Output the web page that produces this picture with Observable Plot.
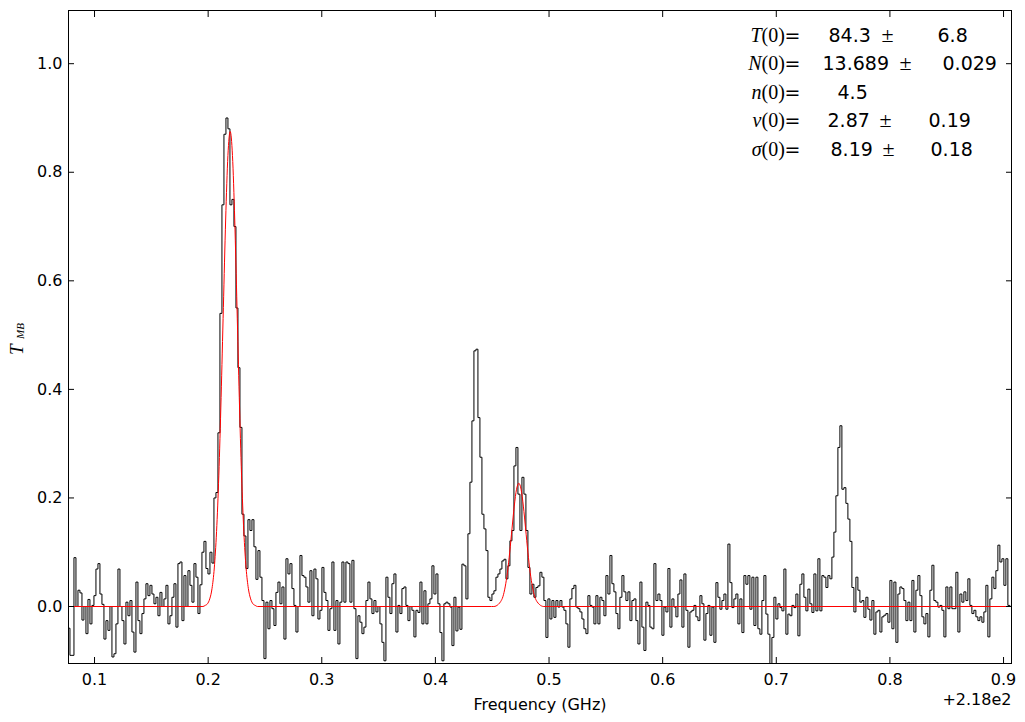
<!DOCTYPE html>
<html><head><meta charset="utf-8">
<script src="https://cdn.jsdelivr.net/npm/d3@7"></script>
<script src="https://cdn.jsdelivr.net/npm/@observablehq/plot@0.6"></script>
<style>body{margin:0;background:#fff} svg{display:block}</style>
</head><body><div id="chart"></div>
<script>
// Channel grid of the spectrum (GHz, offset from 218 GHz)
const chanStart = 0.0775;
const chanWidth = 0.00176;

const tmbLeft = [-0.04, -0.09, -0.09, 0.09, 0.0, 0.03, 0.025, -0.025, 0.0, -0.05,
  0.013, -0.032, 0.002, 0.02, 0.069, 0.079, 0.023, 0.004, -0.06, -0.026,
  -0.044, 0.0, -0.093, -0.087, -0.032, 0.069, 0.0, -0.026, -0.069, 0.008,
  -0.017, 0.011, -0.047, -0.084, 0.045, -0.026, -0.05, -0.013, 0.014, 0.042,
  0.02, 0.039, 0.023, 0.005, 0.017, -0.017, 0.026, 0.0, 0.014, 0.039,
  -0.032, -0.017, 0.017, 0.042, -0.038, 0.079, 0.082, -0.026, 0.057, 0.0,
  0.066, 0.039, 0.008, 0.079, 0.054, -0.013];
const tmbLine1 = [0.04, 0.10, 0.12, 0.07, 0.06, 0.10, 0.08, 0.20, 0.21, 0.32,
  0.54, 0.74, 0.87, 0.90, 0.88, 0.74, 0.75, 0.70, 0.55, 0.44,
  0.33, 0.17, 0.13, 0.07, 0.16, 0.14, 0.16, 0.11, 0.05];
const tmbMid = [0.103, 0.054, 0.011, -0.096, 0.008, -0.041, 0.011, -0.004, -0.035, 0.026,
  0.045, 0.005, 0.036, -0.06, 0.088, 0.06, 0.079, 0.033, 0.002, -0.047,
  0.0, 0.094, 0.057, 0.054, 0.036, 0.008, 0.066, -0.017, 0.069, 0.051,
  -0.023, -0.007, 0.072, 0.026, 0.011, -0.044, -0.004, 0.082, -0.044, 0.011,
  -0.069, 0.008, 0.082, 0.008, 0.082, 0.079, 0.008, 0.085, -0.004, -0.096,
  -0.017, -0.029, -0.05, -0.038, 0.011, 0.045, 0.014, -0.013, 0.011, -0.01,
  0.0, -0.032, -0.066, -0.1, 0.054, 0.017, -0.013, 0.042, 0.06, -0.047,
  0.002, -0.013, 0.033, 0.036, 0.002, -0.026, 0.0, -0.007, -0.056, -0.007];
const tmbLines23 = [-0.011, 0.045, -0.032, 0.029, -0.032, 0.005, 0.014, 0.075, 0.023, 0.06,
  0.005, -0.048, -0.1, 0.005, 0.008, 0.005, -0.001, -0.072, 0.017, -0.045,
  -0.001, -0.042, 0.078, 0.075, 0.014, 0.134, 0.229, 0.342, 0.471, 0.474,
  0.348, 0.275, 0.17, 0.143, 0.103, 0.017, 0.011, 0.023, 0.029, 0.054,
  0.06, 0.069, 0.084, 0.087, 0.051, 0.075, 0.121, 0.14, 0.259, 0.293,
  0.207, 0.14, 0.238, 0.207, 0.14, 0.072, 0.023, 0.041, 0.017, 0.035,
  0.038, 0.063, 0.054, 0.011, -0.057, 0.014, -0.023, 0.011, -0.02, 0.011,
  -0.001];
const tmbRight1 = [0.011, -0.001, -0.007, -0.032, -0.075, 0.014, 0.033, 0.039, -0.001, -0.004,
  -0.01, -0.023, -0.041, -0.05, 0.02, 0.002, -0.001, -0.032, 0.02, -0.032,
  0.017, 0.011, -0.017, 0.057, 0.023, 0.094, 0.042, 0.027, -0.013, -0.041,
  0.017, 0.057, 0.027, 0.011, 0.027, -0.026, 0.011, 0.014, -0.026, -0.069,
  0.045, -0.038, -0.081, 0.008, 0.002, -0.038, -0.041, 0.079, 0.011, 0.023,
  0.011, -0.053, -0.001, -0.01, 0.07, -0.038, 0.014, -0.001, -0.019, 0.023,
  0.049, -0.038, 0.06, -0.007, -0.075, -0.01, -0.007, 0.002, -0.019, -0.026,
  0.02, 0.005, -0.062, -0.013, 0.002, -0.053, -0.001];
const tmbRight2 = [-0.066, 0.044, 0.017, -0.005, 0.011, 0.023, -0.005, 0.115, 0.044, -0.002,
  0.014, 0.023, -0.032, 0.014, -0.048, 0.057, 0.041, 0.057, -0.005, 0.054,
  -0.035, 0.054, -0.041, -0.051, 0.011, 0.057, -0.014, -0.051, -0.11, -0.057,
  0.017, -0.023, 0.005, -0.002, -0.008, 0.069, -0.051, -0.014, -0.017, 0.002,
  -0.002, 0.023, -0.054, 0.041, 0.06, 0.017, -0.008, 0.032, 0.005, -0.011,
  0.06, -0.008, 0.088, -0.008, 0.057, 0.054, 0.035, 0.057];
const tmbLine4 = [0.051, 0.091, 0.137, 0.204, 0.293, 0.333, 0.216, 0.219, 0.19, 0.161,
  0.12, 0.035, -0.01, 0.054, 0.03, 0.008, 0.011, -0.02, 0.017, -0.005,
  -0.025, 0.011, -0.051, -0.01];
const tmbEnd = [-0.007, -0.047, -0.019, -0.016, -0.013, -0.029, 0.048, -0.041, 0.045, -0.066,
  0.023, 0.036, 0.033, 0.011, -0.026, 0.008, -0.026, 0.048, -0.047, 0.03,
  0.057, 0.02, -0.019, -0.032, -0.013, -0.056, 0.03, 0.076, 0.011, 0.008,
  -0.001, 0.002, -0.007, -0.056, 0.036, -0.004, 0.036, -0.004, -0.004, 0.063,
  -0.047, 0.023, 0.008, 0.027, 0.011, 0.051, 0.002, -0.013, -0.007, -0.019,
  -0.026, -0.019, -0.029, -0.01, 0.039, -0.056, 0.014, 0.054, 0.033, 0.066,
  0.113, 0.082, 0.088, 0.039, 0.088, 0.002, 0.0];

// Fitted model (red)
const fitFreq = [0.0771,
  0.1954, 0.1974, 0.1994, 0.2014, 0.2034, 0.2054, 0.2074, 0.2094, 0.2114, 0.2134, 0.2154, 0.2174, 0.2194,
  0.2214, 0.2234, 0.2254, 0.2274, 0.2294, 0.2314, 0.2334, 0.2354, 0.2374, 0.2394, 0.2414, 0.2434,
  0.4494, 0.4514, 0.4534, 0.4554, 0.4574, 0.4594, 0.4614, 0.4634, 0.4654, 0.4674, 0.4694, 0.4714, 0.4734,
  0.4754, 0.4774, 0.4794, 0.4814, 0.4834, 0.4854, 0.4874, 0.4894, 0.4914, 0.4934, 0.4954, 0.4974,
  0.907];
const fitT = [0,
  0.000, 0.002, 0.005, 0.014, 0.033, 0.071, 0.138, 0.242, 0.385, 0.551, 0.712, 0.831, 0.875,
  0.831, 0.712, 0.551, 0.385, 0.242, 0.138, 0.071, 0.033, 0.014, 0.005, 0.002, 0.000,
  0.000, 0.000, 0.001, 0.004, 0.009, 0.018, 0.036, 0.063, 0.100, 0.143, 0.185, 0.216, 0.227,
  0.216, 0.185, 0.143, 0.100, 0.063, 0.036, 0.018, 0.009, 0.004, 0.001, 0.000, 0.000,
  0];

// Tick values and texts
const xTicks = [0.1, 0.2, 0.3, 0.4, 0.5, 0.6, 0.7, 0.8, 0.9];
const yTicks = [0.0, 0.2, 0.4, 0.6, 0.8, 1.0];
const xLabel = "Frequency (GHz)";
const xOffsetLabel = "+2.18e2";
const yLabelMain = "T";
const yLabelSub = "MB";
const paramSymbols = ["T", "N", "n", "v", "σ"];
const paramValues = ["84.3", "13.689", "4.5", "2.87", "8.19"];
const paramErrors = ["6.8", "0.029", "", "0.19", "0.18"];

// ---- build ----
const tmb = [].concat(tmbLeft, tmbLine1, tmbMid, tmbLines23, tmbRight1, tmbRight2, tmbLine4, tmbEnd);
const spectrum = tmb.map((t, i) => ({f: chanStart + i * chanWidth, t}));
const fit = fitFreq.map((f, i) => ({f, t: fitT[i]}));

const W = 1025, H = 722;
const mL = 68, mR = 14, mT = 10, mB = 59;
const serif = "'Liberation Serif', 'DejaVu Serif', serif";
const sans = "'DejaVu Sans', sans-serif";

// layout of the parameter box (pixels)
const rowBase = r => 41 + r * 28.5;
const valueX = [828, 822, 837, 827, 830];
const pmX = [881, 899, null, 879, 882];
const errX = [937, 942, null, 928, 930];

const boxMarks = [];
paramSymbols.forEach((s, r) => {
  const dy = rowBase(r) - mT;
  const common = {frameAnchor: "top-left", lineAnchor: "bottom", fill: "black"};
  boxMarks.push(Plot.text([s], {...common, text: d => d, dx: 761 - mL, dy, textAnchor: "end",
    fontFamily: serif, fontStyle: "italic", fontSize: 20}));
  boxMarks.push(Plot.text(["(0)"], {...common, text: d => d, dx: 761 - mL, dy, textAnchor: "start",
    fontFamily: serif, fontSize: 20}));
  boxMarks.push(Plot.text(["="], {...common, text: d => d, dx: 784 - mL, dy, textAnchor: "start",
    fontFamily: sans, fontSize: 19}));
  boxMarks.push(Plot.text([paramValues[r]], {...common, text: d => d, dx: valueX[r] - mL, dy, textAnchor: "start",
    fontFamily: sans, fontSize: 19}));
  if (paramErrors[r]) {
    boxMarks.push(Plot.text(["±"], {...common, text: d => d, dx: pmX[r] - mL, dy, textAnchor: "start",
      fontFamily: serif, fontSize: 22}));
    boxMarks.push(Plot.text([paramErrors[r]], {...common, text: d => d, dx: errX[r] - mL, dy, textAnchor: "start",
      fontFamily: sans, fontSize: 19}));
  }
});

const chart = Plot.plot({
  width: W, height: H,
  marginLeft: mL, marginRight: mR, marginTop: mT, marginBottom: mB,
  style: {fontFamily: sans, fontSize: "16px", background: "white", color: "black"},
  x: {domain: [0.0771, 0.907]},
  y: {domain: [-0.105, 1.098]},
  marks: [
    Plot.line(spectrum, {x: "f", y: "t", curve: "step", stroke: "black", strokeWidth: 1, clip: true}),
    Plot.line(fit, {x: "f", y: "t", curve: "monotone-x", stroke: "red", strokeWidth: 1, clip: true}),
    Plot.frame({stroke: "black", strokeWidth: 1}),
    Plot.axisX(xTicks, {tickSize: 0, tickPadding: 10, tickFormat: d3.format(".1f"), label: null, fontSize: 16}),
    Plot.axisX(xTicks, {tickSize: -6, fill: "none", label: null}),
    Plot.axisX(xTicks, {anchor: "top", tickSize: -6, fill: "none", label: null}),
    Plot.axisY(yTicks, {tickSize: 0, tickPadding: 6, tickFormat: d3.format(".1f"), label: null, fontSize: 16}),
    Plot.axisY(yTicks, {tickSize: -6, fill: "none", label: null}),
    Plot.axisY(yTicks, {anchor: "right", tickSize: -6, fill: "none", label: null}),
    Plot.text([xLabel], {frameAnchor: "bottom", text: d => d, dy: 46, lineAnchor: "bottom", fontSize: 16, fill: "black"}),
    Plot.text([xOffsetLabel], {frameAnchor: "bottom-right", text: d => d, dy: 41, textAnchor: "end", lineAnchor: "bottom", fontSize: 16, fill: "black"}),
    Plot.text([yLabelMain], {frameAnchor: "left", text: d => d, dx: 16 - mL, dy: 18, rotate: -90, fontFamily: serif, fontStyle: "italic", fontSize: 19, fill: "black"}),
    Plot.text([yLabelSub], {frameAnchor: "left", text: d => d, dx: 20 - mL, dy: 2, rotate: -90, fontFamily: serif, fontStyle: "italic", fontSize: 11, fill: "black"}),
    ...boxMarks
  ]
});
document.getElementById("chart").appendChild(chart);
</script>
</body></html>
